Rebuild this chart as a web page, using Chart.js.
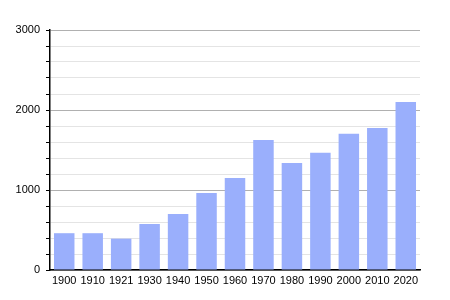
<!DOCTYPE html>
<html><head><meta charset="utf-8">
<script src="https://cdn.jsdelivr.net/npm/chart.js@4/dist/chart.umd.min.js"></script>
<style>html,body{margin:0;padding:0;background:#fff}#w{width:450px;height:300px}</style>
</head><body><div id="w"><canvas id="c"></canvas></div>
<script>
const years = ['1900','1910','1921','1930','1940','1950','1960','1970','1980','1990','2000','2010','2020'];
const population = [460, 460, 392, 575, 700, 962, 1150, 1625, 1337, 1467, 1704, 1775, 2100];
const yTickLabels = [0, 1000, 2000, 3000];

new Chart(document.getElementById('c'), {
  type: 'bar',
  data: { labels: years, datasets: [{ data: population, backgroundColor: '#9aaffc', borderWidth: 0,
    categoryPercentage: 1.0, barPercentage: 0.72 }] },
  options: {
    responsive: true, maintainAspectRatio: false, animation: false,
    layout: { padding: { top: 30, right: 30, left: 0, bottom: 0 } },
    plugins: { legend: { display: false }, tooltip: { enabled: false } },
    scales: {
      x: {
        grid: { display: false, drawTicks: false },
        border: { color: '#000', width: 1.5 },
        ticks: { color: '#000', font: { family: 'Liberation Sans', size: 11 }, padding: 4, maxRotation: 0, autoSkip: false },
        afterFit: s => { s.height = 30; }
      },
      y: {
        min: 0, max: 3000,
        grid: {
          color: c => (c.tick && c.tick.value % 1000 === 0) ? '#b0b0b0' : '#e4e4e4',
          tickColor: '#000', tickLength: 4, drawTicks: true
        },
        border: { color: '#000', width: 1.5 },
        ticks: { stepSize: 200, autoSkip: false, color: '#000', font: { family: 'Liberation Sans', size: 11 }, padding: 6,
          callback: v => yTickLabels.includes(v) ? String(v) : '' },
        afterFit: s => { s.width = 50; }
      }
    }
  }
});
</script></body></html>
